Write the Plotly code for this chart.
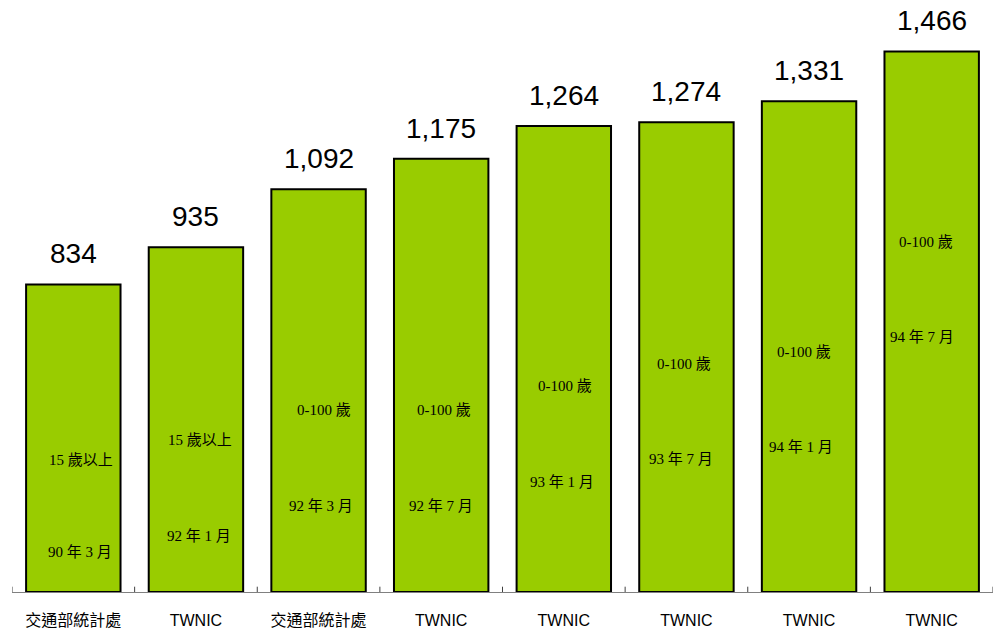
import plotly.graph_objects as go

categories = ["交通部統計處", "TWNIC", "交通部統計處", "TWNIC", "TWNIC", "TWNIC", "TWNIC", "TWNIC"]
values = [834, 935, 1092, 1175, 1264, 1274, 1331, 1466]
age_labels = ["15 歲以上", "15 歲以上", "0-100 歲", "0-100 歲", "0-100 歲", "0-100 歲", "0-100 歲", "0-100 歲"]
date_labels = ["90 年 3 月", "92 年 1 月", "92 年 3 月", "92 年 7 月", "93 年 1 月", "93 年 7 月", "94 年 1 月", "94 年 7 月"]

# positions (data units) and horizontal pixel nudges of the inner labels
age_pos = [358, 412, 494, 494, 559, 618, 651, 949]
date_pos = [108, 152, 233, 233, 298, 361, 393, 692]
age_dx = [8, 4, 5, 3, 1, -2, -5, -6]
date_dx = [7, 3, 2, 0, -2, -5, -8, -10]

xs = list(range(len(values)))

fig = go.Figure()
fig.add_trace(go.Bar(
    x=xs, y=values,
    marker=dict(color="#99CC00", line=dict(color="#000000", width=2)),
    width=0.77,
    hoverinfo="skip",
))

annotations = []
for i, v in enumerate(values):
    annotations.append(dict(
        x=i, y=v, text=f"{v:,}", showarrow=False, yanchor="bottom", yshift=14,
        borderpad=0,
        font=dict(family="Liberation Sans, Arial, sans-serif", size=28, color="#000000"),
    ))
    annotations.append(dict(
        x=i, y=age_pos[i], text=age_labels[i], showarrow=False, xshift=age_dx[i],
        font=dict(family="Liberation Serif, Noto Sans CJK TC, serif", size=15, color="#000000"),
    ))
    annotations.append(dict(
        x=i, y=date_pos[i], text=date_labels[i], showarrow=False, xshift=date_dx[i],
        font=dict(family="Liberation Serif, Noto Sans CJK TC, serif", size=15, color="#000000"),
    ))

fig.update_layout(
    width=994, height=633,
    margin=dict(l=12, r=1, t=2, b=41),
    paper_bgcolor="#FFFFFF", plot_bgcolor="#FFFFFF",
    showlegend=False,
    annotations=annotations,
    xaxis=dict(
        tickmode="array", tickvals=xs, ticktext=categories,
        range=[-0.5, len(values) - 0.5],
        showline=True, linecolor="#808080", linewidth=1,
        ticks="", showgrid=False, zeroline=False,
        tickfont=dict(family="Liberation Sans, Noto Sans CJK TC, sans-serif", size=16, color="#000000"),
        ticklabelstandoff=14,
    ),
    yaxis=dict(range=[0, 1600], visible=False, showgrid=False, zeroline=False),
)

# boundary ticks drawn as shapes tied to axis coordinates
for b in range(len(values) + 1):
    fig.add_shape(type="line", xref="x", yref="paper",
                  x0=b - 0.5, x1=b - 0.5, y0=0, y1=0.009,
                  line=dict(color="#404040", width=1))

fig.write_html(
    "out.html",
    config={"displayModeBar": False},
    post_script="document.body.style.margin='0';document.body.style.overflow='hidden';",
)
